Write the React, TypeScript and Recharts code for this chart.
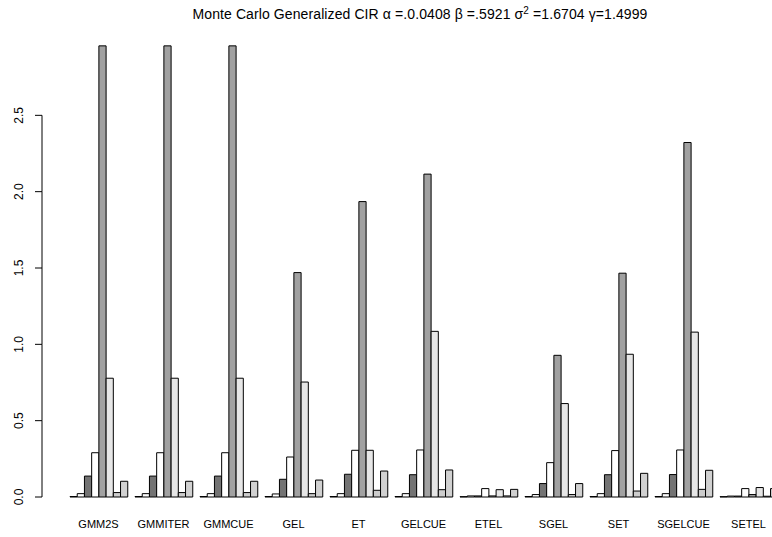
import { BarChart, Bar, XAxis, YAxis } from "recharts";

const methods = ["GMM2S", "GMMITER", "GMMCUE", "GEL", "ET", "GELCUE", "ETEL", "SGEL", "SET", "SGELCUE", "SETEL"];

// eight statistics per method
const s1 = [0.003, 0.003, 0.003, 0.003, 0.003, 0.003, 0.002, 0.003, 0.003, 0.003, 0.002];
const s2 = [0.022, 0.022, 0.022, 0.02, 0.022, 0.022, 0.007, 0.016, 0.022, 0.022, 0.006];
const s3 = [0.137, 0.137, 0.137, 0.116, 0.149, 0.146, 0.007, 0.088, 0.146, 0.147, 0.006];
const s4 = [0.29, 0.29, 0.29, 0.262, 0.306, 0.308, 0.055, 0.225, 0.304, 0.308, 0.055];
const s5 = [2.955, 2.955, 2.955, 1.47, 1.935, 2.115, 0.007, 0.928, 1.466, 2.322, 0.016];
const s6 = [0.778, 0.778, 0.778, 0.753, 0.306, 1.085, 0.048, 0.612, 0.935, 1.08, 0.062];
const s7 = [0.029, 0.029, 0.029, 0.022, 0.044, 0.048, 0.007, 0.016, 0.039, 0.05, 0.005];
const s8 = [0.103, 0.103, 0.103, 0.111, 0.17, 0.177, 0.05, 0.088, 0.155, 0.175, 0.055];

const yTicks = [0, 0.5, 1, 1.5, 2, 2.5];

const series = [s1, s2, s3, s4, s5, s6, s7, s8];
const fills = ["#3a3a3a", "#ffffff", "#737373", "#ffffff", "#a1a1a1", "#e6e6e6", "#cccccc", "#d1d1d1"];

const data = methods.map((m, i) => {
  const row: Record<string, string | number> = { method: m };
  series.forEach((s, k) => (row["v" + k] = s[i]));
  return row;
});

const YMAX = 3;
const TOP = 39;
const PLOT_H = 458;
const AXIS_X = 42;
const FONT = "'Liberation Sans', Arial, sans-serif";

function YTick(props: any) {
  const { y, index } = props;
  const step = (0.5 * PLOT_H) / YMAX;
  return (
    <g>
      <line x1={AXIS_X - 7} y1={y} x2={AXIS_X} y2={y} stroke="#000" />
      {index > 0 && <line x1={AXIS_X} y1={y} x2={AXIS_X} y2={y + step} stroke="#000" />}
      <text
        x={0}
        y={0}
        transform={`translate(23, ${y}) rotate(-90)`}
        textAnchor="middle"
        fontSize={12}
        fontFamily={FONT}
        fill="#000"
      >
        {props.payload.value.toFixed(1)}
      </text>
    </g>
  );
}

function XTick(props: any) {
  const { x, y, payload } = props;
  return (
    <text x={x} y={y + 23} textAnchor="middle" fontSize={11} fontFamily={FONT} fill="#000">
      {payload.value}
    </text>
  );
}

export default function App() {
  return (
    <div
      style={{
        position: "absolute",
        left: 0,
        top: 0,
        width: 772,
        height: 537,
        overflow: "hidden",
        background: "#fff",
        fontFamily: FONT,
      }}
    >
      <div
        style={{
          position: "absolute",
          left: 0,
          width: 840,
          top: 5,
          textAlign: "center",
          fontSize: 14,
          letterSpacing: "0.1px",
          whiteSpace: "nowrap",
        }}
      >
        Monte Carlo Generalized CIR α =.0.0408 β =.5921 σ
        <sup style={{ fontSize: 10, verticalAlign: "5px" }}>2</sup> =1.6704 γ=1.4999
      </div>
      <BarChart
        width={781}
        height={537}
        data={data}
        margin={{ top: TOP, right: 0, bottom: 0, left: 0 }}
        barGap={0}
        barSize={7.22}
      >
        <XAxis
          dataKey="method"
          height={537 - TOP - PLOT_H}
          padding={{ left: 24, right: 0 }}
          axisLine={false}
          tickLine={false}
          interval={0}
          tick={<XTick />}
        />
        <YAxis
          width={AXIS_X}
          domain={[0, YMAX]}
          ticks={yTicks}
          axisLine={false}
          tickLine={false}
          tick={<YTick />}
        />
        {series.map((_, k) => (
          <Bar
            key={k}
            dataKey={"v" + k}
            fill={fills[k]}
            stroke="#000"
            strokeWidth={1}
            isAnimationActive={false}
          />
        ))}
      </BarChart>
    </div>
  );
}
